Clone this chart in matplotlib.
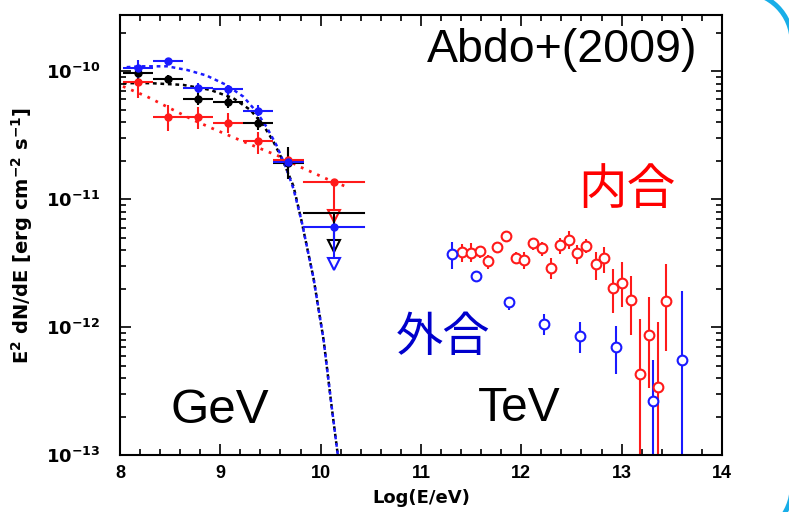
import numpy as np
import matplotlib
matplotlib.use("Agg")
import matplotlib.pyplot as plt
from matplotlib.ticker import FixedLocator, LogLocator, FuncFormatter, NullFormatter
from matplotlib.patches import Arc

plt.rcParams['font.family'] = ['Liberation Sans', 'Noto Sans CJK JP', 'DejaVu Sans']
plt.rcParams['mathtext.default'] = 'bf'

# Fermi-LAT GeV points (bins in log10(E/eV))
gev_x = [8.18, 8.48, 8.78, 9.08, 9.38, 9.68]
gev_xlo = [8.03, 8.33, 8.63, 8.93, 9.23, 9.53]
gev_xhi = [8.33, 8.63, 8.93, 9.23, 9.53, 9.83]

blue_y = [1.06e-10, 1.20e-10, 7.35e-11, 7.23e-11, 4.91e-11, 1.95e-11]
blue_lo = [8.9e-11, 1.13e-10, 6.72e-11, 6.52e-11, 4.49e-11, 1.78e-11]
blue_hi = [1.23e-10, 1.26e-10, 8.05e-11, 7.81e-11, 5.44e-11, 2.14e-11]

black_y = [9.64e-11, 8.65e-11, 6.03e-11, 5.78e-11, 3.95e-11, 1.93e-11]
black_lo = [8.55e-11, 8.05e-11, 5.44e-11, 5.12e-11, 3.46e-11, 1.44e-11]
black_hi = [1.09e-10, 9.25e-11, 6.72e-11, 6.33e-11, 4.40e-11, 2.56e-11]

red_y = [8.29e-11, 4.40e-11, 4.35e-11, 3.91e-11, 2.84e-11, 2.01e-11]
red_lo = [6.21e-11, 3.40e-11, 3.56e-11, 3.26e-11, 2.27e-11, 1.63e-11]
red_hi = [1.02e-10, 5.44e-11, 5.28e-11, 4.68e-11, 3.36e-11, 2.48e-11]

# upper limits in the last bin: (value, arrow tip)
ul_x, ul_xlo, ul_xhi = 10.13, 9.83, 10.43
ul_red = (1.37e-11, 7.4e-12)
ul_black = (7.8e-12, 4.3e-12)
ul_blue = (6.1e-12, 3.1e-12)

# model curves
red_fit_x = [8.03, 8.27, 8.50, 8.73, 8.96, 9.20, 9.40, 9.60, 9.80, 10.06, 10.29]
red_fit_y = [7.59e-11, 6.32e-11, 5.12e-11, 4.15e-11, 3.46e-11, 2.88e-11, 2.48e-11,
             2.14e-11, 1.78e-11, 1.44e-11, 1.22e-11]
black_fit_x = [8.03, 8.30, 8.63, 8.90, 9.13, 9.30, 9.43, 9.53, 9.63, 9.73, 9.81,
               9.93, 10.03, 10.11, 10.18]
black_fit_y = [8.05e-11, 8.05e-11, 7.80e-11, 7.13e-11, 6.14e-11, 4.97e-11, 3.78e-11,
               2.81e-11, 1.95e-11, 1.26e-11, 6.76e-12, 2.40e-12, 7.94e-13, 2.40e-13, 8.9e-14]
blue_fit_x = [8.03, 8.23, 8.47, 8.67, 8.86, 9.06, 9.23, 9.36, 9.46, 9.56, 9.66, 9.73,
              9.81, 9.93, 10.03, 10.11, 10.18]
blue_fit_y = [1.07e-10, 1.09e-10, 1.09e-10, 1.02e-10, 9.25e-11, 7.80e-11, 6.32e-11,
              4.82e-11, 3.68e-11, 2.64e-11, 1.73e-11, 1.20e-11, 6.76e-12, 2.40e-12,
              7.94e-13, 2.40e-13, 8.9e-14]

# TeV points, inferior conjunction (red) and superior conjunction (blue)
tev_in_x = [11.41, 11.50, 11.59, 11.67, 11.76, 11.85, 11.95, 12.03, 12.12, 12.21, 12.30, 12.39,
            12.48, 12.56, 12.65, 12.74, 12.82, 12.91, 13.00, 13.09, 13.18, 13.27, 13.36, 13.44]
tev_in_y = [3.83e-12, 3.79e-12, 3.90e-12, 3.30e-12, 4.20e-12, 5.18e-12, 3.46e-12, 3.34e-12,
            4.51e-12, 4.14e-12, 2.89e-12, 4.38e-12, 4.79e-12, 3.79e-12, 4.32e-12, 3.10e-12,
            3.46e-12, 2.01e-12, 2.23e-12, 1.62e-12, 4.32e-13, 8.75e-13, 3.43e-13, 1.59e-12]
tev_in_hi = [4.46e-12, 4.54e-12, 4.32e-12, 3.65e-12, 4.59e-12, 5.57e-12, 3.83e-12, 3.83e-12,
             4.94e-12, 4.65e-12, 3.44e-12, 4.94e-12, 5.67e-12, 4.38e-12, 4.88e-12, 3.83e-12,
             4.20e-12, 2.87e-12, 3.20e-12, 2.51e-12, 1.15e-12, 1.72e-12, 1.09e-12, 3.14e-12]
tev_in_lo = [3.20e-12, 3.20e-12, 3.44e-12, 2.87e-12, 3.83e-12, 4.73e-12, 3.10e-12, 2.83e-12,
             4.02e-12, 3.60e-12, 2.37e-12, 3.72e-12, 4.07e-12, 3.10e-12, 3.79e-12, 2.34e-12,
             2.64e-12, 1.29e-12, 1.44e-12, 8.75e-13, 1e-14, 3.33e-13, 1e-14, 6.55e-13]

tev_out_x = [11.31, 11.55, 11.88, 12.23, 12.59, 12.94, 13.31, 13.60]
tev_out_y = [3.76e-12, 2.51e-12, 1.57e-12, 1.06e-12, 8.49e-13, 7.05e-13, 2.65e-13, 5.50e-13]
tev_out_hi = [4.59e-12, 2.75e-12, 1.72e-12, 1.26e-12, 1.10e-12, 1.02e-12, 5.57e-13, 1.91e-12]
tev_out_lo = [2.87e-12, 2.30e-12, 1.36e-12, 8.75e-13, 6.28e-13, 4.32e-13, 1e-14, 1e-14]

y_major = [1e-13, 1e-12, 1e-11, 1e-10]

RED = '#ff1a1a'
BLUE = '#1a1aff'
BLACK = '#000000'


def yerr(y, lo, hi):
    y, lo, hi = np.array(y), np.array(lo), np.array(hi)
    return [y - lo, hi - y]


fig = plt.figure(figsize=(7.89, 5.12), dpi=100)
ax = fig.add_axes([0.152, 0.111, 0.763, 0.860])
ax.set_yscale('log')
ax.set_xlim(8, 14)
ax.set_ylim(1e-13, 2.75e-10)

# model curves
ax.plot(red_fit_x, red_fit_y, color=RED, lw=2, ls=(0, (1, 2.2)))
ax.plot(black_fit_x, black_fit_y, color=BLACK, lw=1.8, ls=(0, (1.5, 1.5)))
ax.plot(blue_fit_x, blue_fit_y, color=BLUE, lw=1.8, ls=(1.5, (1.5, 1.5)))

# GeV points
gx = np.array(gev_x)
xerr = [gx - np.array(gev_xlo), np.array(gev_xhi) - gx]
for y, lo, hi, c in [(red_y, red_lo, red_hi, RED), (black_y, black_lo, black_hi, BLACK),
                     (blue_y, blue_lo, blue_hi, BLUE)]:
    ax.errorbar(gev_x, y, xerr=xerr, yerr=yerr(y, lo, hi), fmt='o', ms=5, color=c,
                elinewidth=1.5, capsize=0)

# upper limits
for (val, tip), c, mk in [(ul_red, RED, True), (ul_black, BLACK, False), (ul_blue, BLUE, True)]:
    ax.plot([ul_xlo, ul_xhi], [val, val], color=c, lw=1.5)
    ax.plot([ul_x, ul_x], [val, tip], color=c, lw=1.5)
    if mk:
        ax.plot(ul_x, val, 'o', ms=5, color=c)
    ax.plot(ul_x, tip, marker='v', ms=8, mfc='white', mec=c, mew=1.5, ls='none')

# TeV points
ax.errorbar(tev_in_x, tev_in_y, yerr=yerr(tev_in_y, tev_in_lo, tev_in_hi), fmt='o', ms=7,
            mfc='white', mec=RED, mew=1.5, color=RED, elinewidth=1.5, capsize=0)
ax.errorbar(tev_out_x, tev_out_y, yerr=yerr(tev_out_y, tev_out_lo, tev_out_hi), fmt='o', ms=7,
            mfc='white', mec=BLUE, mew=1.5, color=BLUE, elinewidth=1.5, capsize=0)

# axes styling
ax.xaxis.set_major_locator(FixedLocator(np.arange(8, 15)))
ax.xaxis.set_minor_locator(FixedLocator(np.arange(8, 14.01, 0.2)))
ax.yaxis.set_major_locator(FixedLocator(y_major))
ax.yaxis.set_minor_locator(LogLocator(base=10, subs=np.arange(2, 10), numticks=20))
ax.yaxis.set_minor_formatter(NullFormatter())
ax.yaxis.set_major_formatter(FuncFormatter(lambda v, p: r'$10^{%d}$' % round(np.log10(v))))
ax.tick_params(which='both', direction='in', top=True, right=True, width=1.2)
ax.tick_params(which='major', length=8, labelsize=13)
ax.tick_params(axis='y', which='major', pad=14)
ax.tick_params(axis='x', which='major', pad=7)
ax.tick_params(which='minor', length=4)
for lab in ax.get_xticklabels():
    lab.set_fontweight('bold')
for s in ax.spines.values():
    s.set_linewidth(1.5)

ax.set_xlabel('Log(E/eV)', fontsize=13, fontweight='bold', family='DejaVu Sans', labelpad=5)
ax.set_ylabel(r'E$^2$ dN/dE [erg cm$^{-2}$ s$^{-1}$]', fontsize=14, fontweight='bold',
              family='DejaVu Sans', labelpad=8)

# annotations
ax.text(0.734, 0.92, 'Abdo+(2009)', transform=ax.transAxes, fontsize=33.5, ha='center', va='center')
ax.text(0.842, 0.602, '内合', transform=ax.transAxes, fontsize=35, color='#ff0000',
        ha='center', va='center', family='Noto Sans CJK JP')
ax.text(0.537, 0.266, '外合', transform=ax.transAxes, fontsize=34, color='#0000cc',
        ha='center', va='center', family='Noto Sans CJK JP')
ax.text(0.166, 0.102, 'GeV', transform=ax.transAxes, fontsize=35.5, ha='center', va='center')
ax.text(0.663, 0.107, 'TeV', transform=ax.transAxes, fontsize=34.5, ha='center', va='center')

# slide frame corners (rounded border of the slide)
W, H = 789.0, 512.0
for cy, t1, t2 in [((H - 42) / H, 0, 90), (25 / H, 270, 360)]:
    fig.patches.append(Arc((742 / W, cy), 100 / W, 100 / H, theta1=t1, theta2=t2,
                           transform=fig.transFigure, color='#18aee8', lw=3.5))

fig.savefig('out.png', dpi=100)
